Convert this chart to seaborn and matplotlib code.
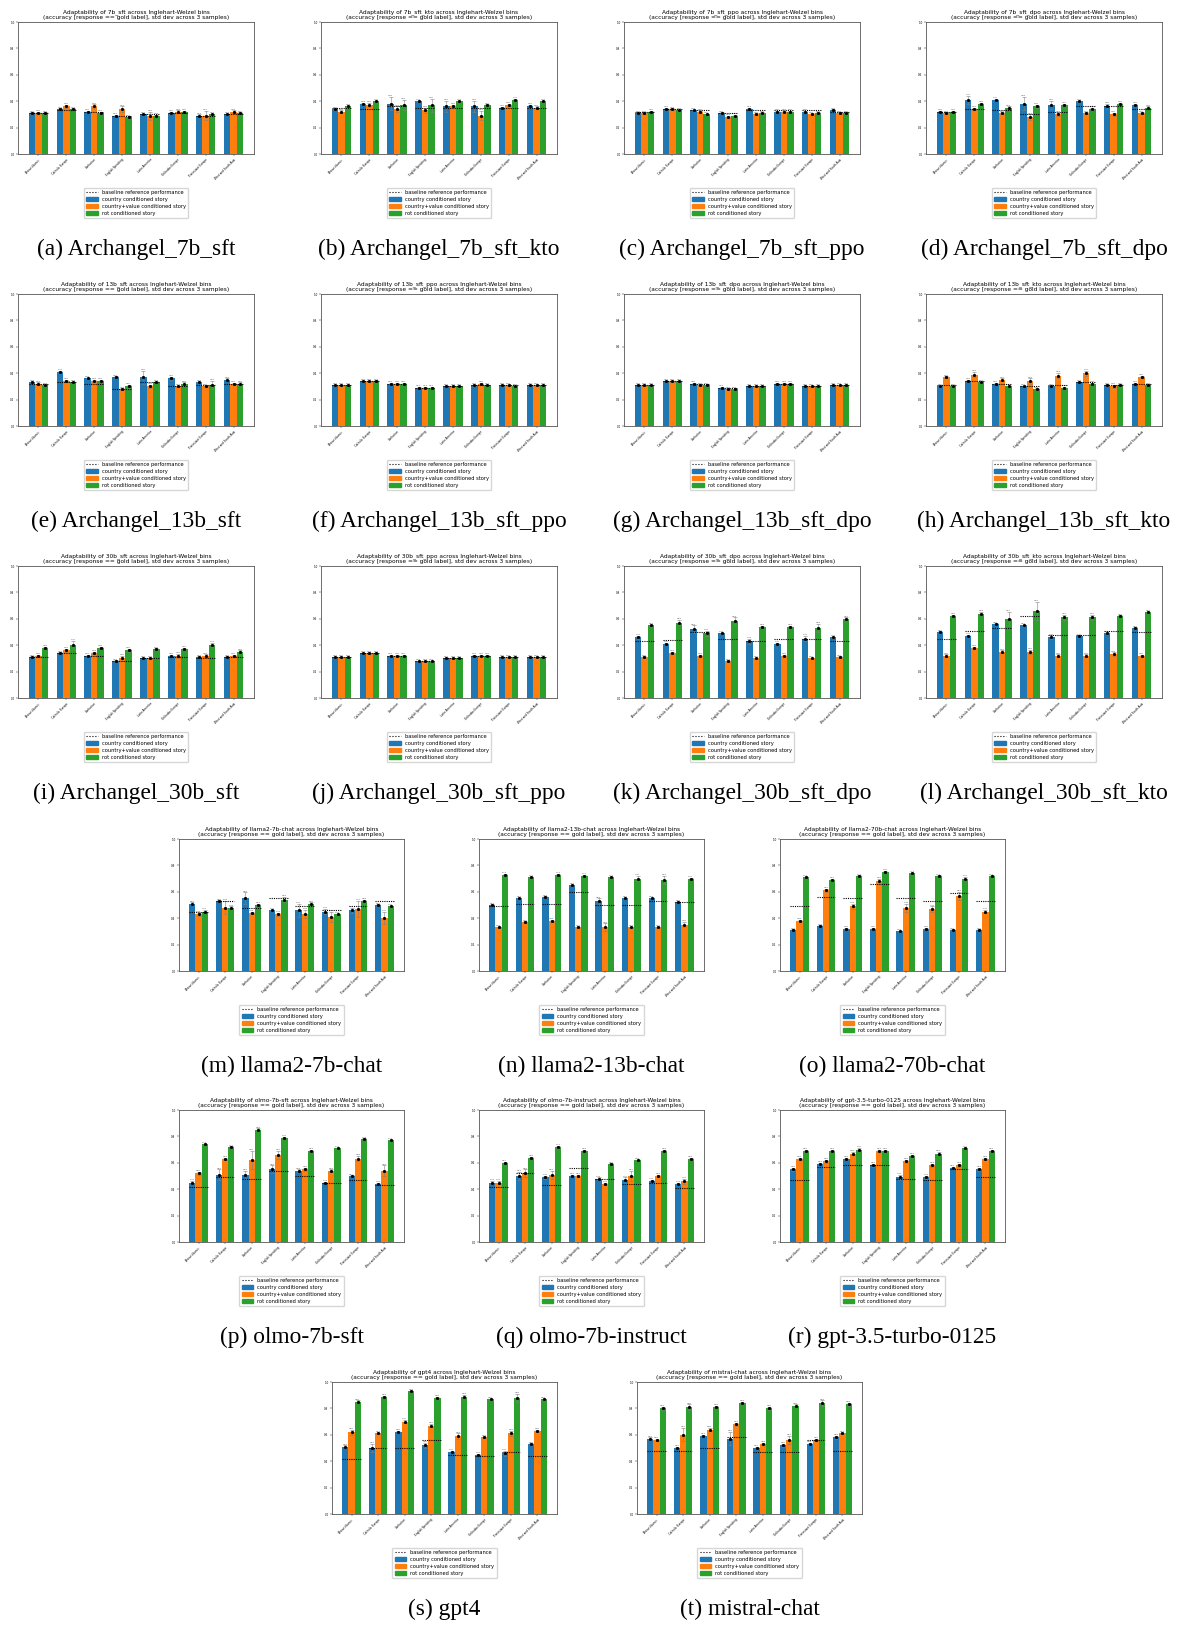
import matplotlib
matplotlib.use("Agg")
import matplotlib.pyplot as plt
from matplotlib.lines import Line2D
from matplotlib.patches import Patch
from matplotlib.container import BarContainer
import seaborn as sns
import pandas as pd
import numpy as np

# Inglehart-Welzel cultural bins (x axis of every panel)
bins = ["African-Islamic", "Catholic Europe", "Confucian", "English Speaking",
        "Latin America", "Orthodox Europe", "Protestant Europe", "West and South Asia"]
conditions = ["country conditioned story", "country+value conditioned story", "rot conditioned story"]
colors = ["#1f77b4", "#ff7f0e", "#2ca02c"]

# ---- values: country / country+value / rot, baseline, std ----
a_country = [0.31, 0.34, 0.32, 0.29, 0.30, 0.31, 0.29, 0.30]
a_value = [0.31, 0.36, 0.36, 0.34, 0.29, 0.32, 0.29, 0.32]
a_rot = [0.31, 0.34, 0.31, 0.28, 0.29, 0.32, 0.30, 0.31]
a_base = [0.31, 0.33, 0.32, 0.29, 0.30, 0.31, 0.29, 0.30]
a_std = [[0.005, 0.005, 0.008, 0.005, 0.005, 0.008, 0.01, 0.005],
         [0.008, 0.01, 0.015, 0.02, 0.03, 0.01, 0.035, 0.01],
         [0.005, 0.005, 0.008, 0.005, 0.005, 0.005, 0.005, 0.005]]

b_country = [0.34, 0.38, 0.38, 0.40, 0.36, 0.36, 0.35, 0.36]
b_value = [0.32, 0.37, 0.34, 0.33, 0.36, 0.29, 0.37, 0.35]
b_rot = [0.36, 0.40, 0.37, 0.37, 0.40, 0.37, 0.41, 0.40]
b_base = [0.35, 0.34, 0.36, 0.35, 0.35, 0.35, 0.35, 0.35]
b_std = [[0.005, 0.01, 0.05, 0.005, 0.04, 0.04, 0.005, 0.01],
         [0.01, 0.015, 0.02, 0.02, 0.01, 0.035, 0.01, 0.01],
         [0.005, 0.005, 0.04, 0.05, 0.005, 0.005, 0.005, 0.005]]

c_country = [0.31, 0.34, 0.33, 0.31, 0.34, 0.32, 0.32, 0.33]
c_value = [0.31, 0.34, 0.32, 0.28, 0.30, 0.32, 0.30, 0.31]
c_rot = [0.32, 0.33, 0.30, 0.29, 0.31, 0.32, 0.31, 0.31]
c_base = [0.32, 0.34, 0.33, 0.31, 0.33, 0.33, 0.33, 0.32]
c_std = [[0.005, 0.008, 0.005, 0.005, 0.008, 0.005, 0.005, 0.008],
         [0.005, 0.005, 0.008, 0.01, 0.008, 0.005, 0.008, 0.005],
         [0.005, 0.005, 0.005, 0.005, 0.005, 0.005, 0.005, 0.005]]

d_country = [0.32, 0.41, 0.41, 0.38, 0.37, 0.40, 0.36, 0.37]
d_value = [0.31, 0.34, 0.31, 0.28, 0.30, 0.31, 0.30, 0.31]
d_rot = [0.32, 0.38, 0.35, 0.36, 0.37, 0.34, 0.38, 0.35]
d_base = [0.32, 0.34, 0.33, 0.30, 0.32, 0.36, 0.36, 0.34]
d_std = [[0.005, 0.03, 0.005, 0.05, 0.03, 0.005, 0.02, 0.01],
         [0.005, 0.01, 0.005, 0.02, 0.01, 0.005, 0.01, 0.005],
         [0.005, 0.01, 0.01, 0.01, 0.01, 0.01, 0.01, 0.01]]

e_country = [0.33, 0.41, 0.36, 0.37, 0.37, 0.36, 0.33, 0.35]
e_value = [0.32, 0.34, 0.34, 0.28, 0.30, 0.30, 0.30, 0.32]
e_rot = [0.31, 0.33, 0.34, 0.30, 0.33, 0.32, 0.31, 0.32]
e_base = [0.32, 0.33, 0.32, 0.28, 0.33, 0.30, 0.31, 0.32]
e_std = [[0.005, 0.01, 0.005, 0.005, 0.05, 0.01, 0.005, 0.01],
         [0.01, 0.01, 0.01, 0.005, 0.01, 0.005, 0.005, 0.005],
         [0.005, 0.005, 0.01, 0.01, 0.005, 0.01, 0.03, 0.01]]

f_country = [0.31, 0.34, 0.32, 0.29, 0.30, 0.31, 0.31, 0.31]
f_value = [0.31, 0.34, 0.32, 0.29, 0.30, 0.32, 0.31, 0.31]
f_rot = [0.31, 0.34, 0.32, 0.29, 0.30, 0.31, 0.30, 0.31]
f_base = [0.31, 0.34, 0.32, 0.29, 0.30, 0.31, 0.31, 0.31]
f_std = [[0.004, 0.004, 0.004, 0.004, 0.004, 0.004, 0.004, 0.004],
         [0.004, 0.004, 0.004, 0.004, 0.004, 0.006, 0.004, 0.004],
         [0.004, 0.006, 0.004, 0.004, 0.004, 0.004, 0.004, 0.004]]

g_country = [0.31, 0.34, 0.32, 0.29, 0.30, 0.32, 0.30, 0.31]
g_value = [0.31, 0.34, 0.31, 0.28, 0.30, 0.32, 0.30, 0.31]
g_rot = [0.31, 0.34, 0.31, 0.28, 0.30, 0.32, 0.30, 0.31]
g_base = [0.31, 0.34, 0.32, 0.29, 0.30, 0.32, 0.30, 0.31]
g_std = [[0.004, 0.004, 0.004, 0.004, 0.004, 0.004, 0.004, 0.004],
         [0.004, 0.004, 0.004, 0.004, 0.004, 0.004, 0.004, 0.004],
         [0.004, 0.004, 0.004, 0.004, 0.004, 0.004, 0.004, 0.004]]

h_country = [0.30, 0.34, 0.32, 0.30, 0.30, 0.33, 0.31, 0.32]
h_value = [0.37, 0.39, 0.35, 0.34, 0.38, 0.40, 0.30, 0.37]
h_rot = [0.30, 0.33, 0.30, 0.28, 0.29, 0.32, 0.31, 0.31]
h_base = [0.31, 0.34, 0.32, 0.30, 0.31, 0.33, 0.31, 0.32]
h_std = [[0.005, 0.01, 0.005, 0.005, 0.005, 0.005, 0.005, 0.005],
         [0.005, 0.02, 0.01, 0.02, 0.02, 0.02, 0.01, 0.01],
         [0.005, 0.005, 0.005, 0.005, 0.005, 0.005, 0.005, 0.005]]

i_country = [0.31, 0.34, 0.32, 0.28, 0.30, 0.32, 0.31, 0.31]
i_value = [0.32, 0.36, 0.34, 0.30, 0.30, 0.32, 0.32, 0.32]
i_rot = [0.38, 0.40, 0.38, 0.36, 0.37, 0.37, 0.40, 0.35]
i_base = [0.31, 0.34, 0.32, 0.28, 0.30, 0.31, 0.30, 0.31]
i_std = [[0.005, 0.005, 0.005, 0.005, 0.005, 0.005, 0.005, 0.005],
         [0.005, 0.01, 0.01, 0.02, 0.005, 0.015, 0.01, 0.005],
         [0.005, 0.03, 0.01, 0.01, 0.005, 0.01, 0.015, 0.01]]

j_country = [0.31, 0.34, 0.32, 0.28, 0.30, 0.32, 0.31, 0.31]
j_value = [0.31, 0.34, 0.32, 0.28, 0.30, 0.32, 0.31, 0.31]
j_rot = [0.31, 0.34, 0.32, 0.28, 0.30, 0.32, 0.31, 0.31]
j_base = [0.31, 0.34, 0.32, 0.28, 0.30, 0.32, 0.31, 0.31]
j_std = [[0.004, 0.004, 0.004, 0.004, 0.004, 0.004, 0.004, 0.004],
         [0.004, 0.004, 0.004, 0.004, 0.004, 0.004, 0.004, 0.004],
         [0.004, 0.004, 0.004, 0.004, 0.004, 0.004, 0.004, 0.004]]

k_country = [0.46, 0.41, 0.52, 0.49, 0.43, 0.41, 0.45, 0.46]
k_value = [0.31, 0.34, 0.32, 0.28, 0.30, 0.32, 0.30, 0.31]
k_rot = [0.55, 0.57, 0.49, 0.58, 0.54, 0.54, 0.53, 0.60]
k_base = [0.43, 0.44, 0.50, 0.45, 0.43, 0.45, 0.45, 0.43]
k_std = [[0.01, 0.005, 0.03, 0.005, 0.02, 0.005, 0.02, 0.005],
         [0.005, 0.01, 0.005, 0.005, 0.005, 0.005, 0.005, 0.005],
         [0.005, 0.02, 0.02, 0.03, 0.005, 0.005, 0.03, 0.01]]

l_country = [0.50, 0.47, 0.56, 0.55, 0.46, 0.47, 0.49, 0.53]
l_value = [0.32, 0.38, 0.35, 0.35, 0.32, 0.32, 0.33, 0.32]
l_rot = [0.62, 0.64, 0.60, 0.66, 0.61, 0.61, 0.62, 0.65]
l_base = [0.45, 0.51, 0.53, 0.62, 0.48, 0.48, 0.51, 0.50]
l_std = [[0.005, 0.01, 0.005, 0.005, 0.015, 0.005, 0.005, 0.005],
         [0.01, 0.01, 0.01, 0.015, 0.01, 0.01, 0.015, 0.005],
         [0.01, 0.01, 0.05, 0.07, 0.02, 0.02, 0.005, 0.005]]

m_country = [0.51, 0.53, 0.55, 0.46, 0.46, 0.45, 0.46, 0.50]
m_value = [0.43, 0.48, 0.44, 0.43, 0.43, 0.41, 0.47, 0.40]
m_rot = [0.45, 0.48, 0.50, 0.54, 0.51, 0.43, 0.53, 0.49]
m_base = [0.45, 0.53, 0.48, 0.55, 0.49, 0.46, 0.49, 0.53]
m_std = [[0.01, 0.005, 0.045, 0.005, 0.05, 0.02, 0.02, 0.005],
         [0.01, 0.05, 0.01, 0.01, 0.03, 0.04, 0.06, 0.045],
         [0.01, 0.01, 0.01, 0.02, 0.01, 0.005, 0.01, 0.005]]

n_country = [0.50, 0.55, 0.56, 0.65, 0.53, 0.55, 0.55, 0.52]
n_value = [0.33, 0.37, 0.38, 0.33, 0.33, 0.33, 0.33, 0.35]
n_rot = [0.73, 0.71, 0.73, 0.72, 0.71, 0.70, 0.69, 0.70]
n_base = [0.49, 0.51, 0.51, 0.60, 0.50, 0.50, 0.53, 0.52]
n_std = [[0.005, 0.005, 0.005, 0.005, 0.02, 0.005, 0.005, 0.005],
         [0.005, 0.005, 0.01, 0.005, 0.03, 0.005, 0.005, 0.02],
         [0.005, 0.005, 0.005, 0.01, 0.005, 0.02, 0.03, 0.005]]

o_country = [0.31, 0.34, 0.32, 0.32, 0.30, 0.32, 0.31, 0.31]
o_value = [0.38, 0.61, 0.49, 0.68, 0.48, 0.47, 0.57, 0.45]
o_rot = [0.71, 0.69, 0.72, 0.75, 0.74, 0.72, 0.70, 0.72]
o_base = [0.49, 0.56, 0.55, 0.66, 0.55, 0.53, 0.59, 0.53]
o_std = [[0.005, 0.005, 0.005, 0.005, 0.005, 0.005, 0.005, 0.005],
         [0.005, 0.01, 0.02, 0.02, 0.03, 0.02, 0.03, 0.01],
         [0.005, 0.01, 0.005, 0.01, 0.005, 0.005, 0.01, 0.005]]

p_country = [0.45, 0.51, 0.51, 0.55, 0.54, 0.45, 0.50, 0.44]
p_value = [0.52, 0.63, 0.62, 0.66, 0.55, 0.54, 0.63, 0.54]
p_rot = [0.74, 0.72, 0.85, 0.79, 0.69, 0.71, 0.78, 0.77]
p_base = [0.42, 0.49, 0.48, 0.54, 0.50, 0.45, 0.47, 0.43]
p_std = [[0.01, 0.04, 0.03, 0.03, 0.01, 0.005, 0.005, 0.005],
         [0.01, 0.01, 0.07, 0.03, 0.01, 0.01, 0.02, 0.04],
         [0.005, 0.005, 0.01, 0.005, 0.005, 0.005, 0.005, 0.005]]

q_country = [0.45, 0.50, 0.49, 0.50, 0.48, 0.47, 0.46, 0.44]
q_value = [0.45, 0.52, 0.51, 0.50, 0.44, 0.50, 0.50, 0.46]
q_rot = [0.60, 0.64, 0.72, 0.69, 0.59, 0.62, 0.69, 0.63]
q_base = [0.42, 0.52, 0.43, 0.56, 0.48, 0.44, 0.45, 0.41]
q_std = [[0.01, 0.03, 0.01, 0.01, 0.01, 0.02, 0.01, 0.01],
         [0.01, 0.03, 0.03, 0.01, 0.01, 0.04, 0.01, 0.02],
         [0.005, 0.005, 0.01, 0.005, 0.005, 0.005, 0.005, 0.005]]

r_country = [0.55, 0.59, 0.63, 0.58, 0.49, 0.49, 0.56, 0.55]
r_value = [0.63, 0.61, 0.67, 0.69, 0.61, 0.58, 0.58, 0.63]
r_rot = [0.69, 0.69, 0.70, 0.69, 0.65, 0.67, 0.71, 0.69]
r_base = [0.47, 0.57, 0.58, 0.58, 0.48, 0.47, 0.55, 0.49]
r_std = [[0.01, 0.01, 0.01, 0.01, 0.02, 0.01, 0.01, 0.01],
         [0.01, 0.01, 0.01, 0.01, 0.01, 0.01, 0.01, 0.01],
         [0.01, 0.005, 0.01, 0.005, 0.01, 0.01, 0.005, 0.01]]

s_country = [0.51, 0.50, 0.62, 0.52, 0.47, 0.45, 0.46, 0.53]
s_value = [0.62, 0.61, 0.70, 0.67, 0.59, 0.58, 0.61, 0.63]
s_rot = [0.85, 0.89, 0.93, 0.88, 0.89, 0.87, 0.88, 0.87]
s_base = [0.42, 0.50, 0.50, 0.56, 0.45, 0.44, 0.47, 0.44]
s_std = [[0.01, 0.03, 0.01, 0.02, 0.01, 0.005, 0.02, 0.005],
         [0.02, 0.005, 0.01, 0.01, 0.02, 0.005, 0.02, 0.005],
         [0.01, 0.005, 0.005, 0.01, 0.01, 0.005, 0.03, 0.005]]

t_country = [0.57, 0.50, 0.59, 0.57, 0.50, 0.52, 0.53, 0.58]
t_value = [0.56, 0.60, 0.64, 0.68, 0.53, 0.56, 0.56, 0.61]
t_rot = [0.80, 0.81, 0.81, 0.84, 0.80, 0.82, 0.84, 0.83]
t_base = [0.48, 0.48, 0.50, 0.58, 0.47, 0.47, 0.56, 0.48]
t_std = [[0.01, 0.01, 0.01, 0.05, 0.01, 0.01, 0.01, 0.01],
         [0.01, 0.05, 0.01, 0.01, 0.01, 0.03, 0.01, 0.005],
         [0.01, 0.02, 0.01, 0.01, 0.01, 0.01, 0.02, 0.01]]

# (label, name in title, caption name, data)
panels = [
    ("a", "7b_sft", "Archangel_7b_sft", a_country, a_value, a_rot, a_base, a_std),
    ("b", "7b_sft_kto", "Archangel_7b_sft_kto", b_country, b_value, b_rot, b_base, b_std),
    ("c", "7b_sft_ppo", "Archangel_7b_sft_ppo", c_country, c_value, c_rot, c_base, c_std),
    ("d", "7b_sft_dpo", "Archangel_7b_sft_dpo", d_country, d_value, d_rot, d_base, d_std),
    ("e", "13b_sft", "Archangel_13b_sft", e_country, e_value, e_rot, e_base, e_std),
    ("f", "13b_sft_ppo", "Archangel_13b_sft_ppo", f_country, f_value, f_rot, f_base, f_std),
    ("g", "13b_sft_dpo", "Archangel_13b_sft_dpo", g_country, g_value, g_rot, g_base, g_std),
    ("h", "13b_sft_kto", "Archangel_13b_sft_kto", h_country, h_value, h_rot, h_base, h_std),
    ("i", "30b_sft", "Archangel_30b_sft", i_country, i_value, i_rot, i_base, i_std),
    ("j", "30b_sft_ppo", "Archangel_30b_sft_ppo", j_country, j_value, j_rot, j_base, j_std),
    ("k", "30b_sft_dpo", "Archangel_30b_sft_dpo", k_country, k_value, k_rot, k_base, k_std),
    ("l", "30b_sft_kto", "Archangel_30b_sft_kto", l_country, l_value, l_rot, l_base, l_std),
    ("m", "llama2-7b-chat", "llama2-7b-chat", m_country, m_value, m_rot, m_base, m_std),
    ("n", "llama2-13b-chat", "llama2-13b-chat", n_country, n_value, n_rot, n_base, n_std),
    ("o", "llama2-70b-chat", "llama2-70b-chat", o_country, o_value, o_rot, o_base, o_std),
    ("p", "olmo-7b-sft", "olmo-7b-sft", p_country, p_value, p_rot, p_base, p_std),
    ("q", "olmo-7b-instruct", "olmo-7b-instruct", q_country, q_value, q_rot, q_base, q_std),
    ("r", "gpt-3.5-turbo-0125", "gpt-3.5-turbo-0125", r_country, r_value, r_rot, r_base, r_std),
    ("s", "gpt4", "gpt4", s_country, s_value, s_rot, s_base, s_std),
    ("t", "mistral-chat", "mistral-chat", t_country, t_value, t_rot, t_base, t_std),
]

# axes boxes in pixels (left, top, width) -- layout of the figure grid
W, H = 1177, 1626
AX_H = 132
row_tops = [22, 294, 566, 839, 1110, 1382]
boxes = []
for r in range(3):
    for left in [18, 321, 624, 926]:
        boxes.append((left, row_tops[r], 236))
for r in (3, 4):
    for left in [179, 479, 780]:
        boxes.append((left, row_tops[r], 225))
for left in [332, 637]:
    boxes.append((left, row_tops[5], 225))

fig = plt.figure(figsize=(W / 100, H / 100), dpi=100)

legend_handles = [Line2D([], [], color="k", ls=":", lw=0.8)] + [Patch(color=c) for c in colors]
legend_labels = ["baseline reference performance"] + conditions

for (lab, name, cap, country, value, rot, base, std), (left, top, w) in zip(panels, boxes):
    ax = fig.add_axes([left / W, 1 - (top + AX_H) / H, w / W, AX_H / H])
    df = pd.DataFrame({
        "bin": bins * 3,
        "acc": country + value + rot,
        "cond": [c for c in conditions for _ in bins],
    })
    sns.barplot(data=df, x="bin", y="acc", hue="cond", hue_order=conditions,
                palette=colors, width=0.7, errorbar=None, legend=False,
                saturation=1, ax=ax)

    bar_groups = [c for c in ax.containers if isinstance(c, BarContainer)]
    for k, cont in enumerate(bar_groups):
        xs = [p.get_x() + p.get_width() / 2 for p in cont]
        hs = [p.get_height() for p in cont]
        ax.errorbar(xs, hs, yerr=std[k], fmt="s", ms=1.1, color="k",
                    ecolor="grey", elinewidth=0.4, capsize=1.3, capthick=0.4, zorder=4)
        for x, h, e in zip(xs, hs, std[k]):
            ax.text(x, h + e + 0.006, f"{h:.2f}", ha="center", va="bottom",
                    fontsize=1.6, color="#444")

    centers = np.arange(len(bins))
    ax.hlines(base, centers - 0.35, centers + 0.35, colors="k",
              linestyles=(0, (1, 1)), lw=0.8, zorder=5)

    ax.set_ylim(0, 1.0)
    ax.set_yticks([0, 0.2, 0.4, 0.6, 0.8, 1.0])
    ax.set_yticklabels(["0.0", "0.2", "0.4", "0.6", "0.8", "1.0"])
    ax.set_xticks(centers)
    ax.set_xticklabels(bins, rotation=45, ha="right", rotation_mode="anchor")
    ax.tick_params(labelsize=2, length=1.5, width=0.3, pad=1)
    ax.set_xlabel("")
    ax.set_ylabel("")
    for sp in ax.spines.values():
        sp.set_linewidth(0.6)
        sp.set_color("#555555")
    ax.set_title(f"Adaptability of {name} across Inglehart-Welzel bins\n"
                 "(accuracy [response == gold label], std dev across 3 samples)",
                 fontsize=4.2, pad=2.2, linespacing=1.05)
    ax.legend(legend_handles, legend_labels, loc="upper center",
              bbox_to_anchor=(0.5, -0.235), fontsize=3.7, frameon=True,
              edgecolor="#cccccc", fancybox=True, handlelength=2.2,
              handleheight=0.8, borderpad=0.5, labelspacing=0.35)

    fig.text((left + w / 2) / W, 1 - (top + 227) / H, f"({lab}) {cap}",
             ha="center", va="center", fontsize=16.8, family="Liberation Serif")

fig.savefig("out.png", dpi=100)
